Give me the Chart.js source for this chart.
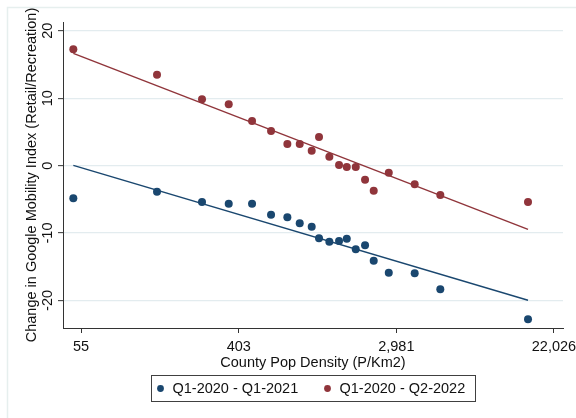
<!DOCTYPE html>
<html>
<head>
<meta charset="utf-8">
<script src="https://cdn.jsdelivr.net/npm/chart.js@4.4.1/dist/chart.umd.min.js"></script>
<style>
  html, body { margin: 0; padding: 0; background: #ffffff; }
  #wrap { width: 576px; height: 418px; position: relative; }
</style>
</head>
<body>
<div id="wrap"><canvas id="c" width="576" height="418"></canvas></div>
<script>
// County population density bins (natural log of people per km2)
const logDensity = [3.901, 4.963, 5.534, 5.873, 6.169, 6.410, 6.617, 6.774, 6.926, 7.019,
                    7.150, 7.273, 7.371, 7.485, 7.603, 7.713, 7.904, 8.233, 8.558, 9.671];

// Change in Google mobility index (retail/recreation), binned means
const changeQ1_2021 = [-4.85, -3.87, -5.40, -5.65, -5.65, -7.29, -7.67, -8.56, -9.07, -10.79,
                       -11.29, -11.19, -10.85, -12.42, -11.82, -14.11, -15.89, -15.98, -18.35, -22.80];
const changeQ2_2022 = [17.25, 13.48, 9.83, 9.09, 6.61, 5.13, 3.20, 3.20, 2.21, 4.24,
                       1.32, 0.09, -0.21, -0.21, -2.09, -3.73, -1.06, -2.78, -4.36, -5.40];

// Linear fit end points
const fitX = [3.901, 9.671];
const fitQ1_2021 = [0.04, -19.98];
const fitQ2_2022 = [16.65, -9.45];

const seriesLabels = ['Q1-2020 - Q1-2021', 'Q1-2020 - Q2-2022'];
const xTickValues = [4, 6, 8, 10];
const xTickLabels = ['55', '403', '2,981', '22,026'];
const yTickValues = [-20, -10, 0, 10, 20];
const yTickLabels = ['-20', '-10', '0', '10', '20'];

const BLUE = '#1a476f';
const RED = '#90353b';
const AXIS = '#333333';
const GRID = '#e3ecef';
const TEXT = '#111111';
const FONT = "'Liberation Sans', Arial, sans-serif";

const toPoints = (xs, ys) => xs.map((x, i) => ({ x: x, y: ys[i] }));

// Outer graph frame (top and left edges) drawn under everything
const framePlugin = {
  id: 'frame',
  beforeDraw(chart) {
    const ctx = chart.ctx;
    ctx.save();
    ctx.strokeStyle = '#e6efee';
    ctx.lineWidth = 1.5;
    ctx.beginPath();
    ctx.moveTo(576, 7.5);
    ctx.lineTo(7.5, 7.5);
    ctx.lineTo(7.5, 418);
    ctx.stroke();
    ctx.restore();
  }
};

// Boxed legend below the x axis title
const legendPlugin = {
  id: 'boxLegend',
  afterDraw(chart) {
    const ctx = chart.ctx;
    const area = chart.chartArea;
    const cx = (area.left + area.right) / 2;
    const boxW = 324, boxH = 26;
    const left = Math.round(cx - boxW / 2) + 0.5;
    const top = area.bottom + 47.5;
    const midY = top + boxH / 2;
    ctx.save();
    ctx.strokeStyle = '#404040';
    ctx.lineWidth = 1;
    ctx.strokeRect(left, top, boxW, boxH);
    ctx.font = '14.5px ' + FONT;
    ctx.textBaseline = 'middle';
    ctx.textAlign = 'left';
    const items = [
      { label: seriesLabels[0], color: BLUE, dotX: left + 9, textX: left + 21 },
      { label: seriesLabels[1], color: RED, dotX: left + 176, textX: left + 188 }
    ];
    items.forEach(it => {
      ctx.fillStyle = it.color;
      ctx.beginPath();
      ctx.arc(it.dotX, midY, 3.4, 0, Math.PI * 2);
      ctx.fill();
      ctx.fillStyle = TEXT;
      ctx.fillText(it.label, it.textX, midY + 0.5);
    });
    ctx.restore();
  }
};

new Chart(document.getElementById('c'), {
  type: 'scatter',
  data: {
    datasets: [
      {
        label: seriesLabels[0],
        data: toPoints(logDensity, changeQ1_2021),
        backgroundColor: BLUE,
        borderWidth: 0,
        pointRadius: 4,
        order: 1
      },
      {
        label: seriesLabels[1],
        data: toPoints(logDensity, changeQ2_2022),
        backgroundColor: RED,
        borderWidth: 0,
        pointRadius: 4,
        order: 1
      },
      {
        label: 'Fit ' + seriesLabels[0],
        data: toPoints(fitX, fitQ1_2021),
        showLine: true,
        borderColor: BLUE,
        borderWidth: 1.4,
        pointRadius: 0,
        order: 2
      },
      {
        label: 'Fit ' + seriesLabels[1],
        data: toPoints(fitX, fitQ2_2022),
        showLine: true,
        borderColor: RED,
        borderWidth: 1.4,
        pointRadius: 0,
        order: 2
      }
    ]
  },
  options: {
    responsive: false,
    animation: false,
    devicePixelRatio: 1,
    layout: { padding: { top: 22, right: 13, bottom: 46, left: 0 } },
    plugins: {
      legend: { display: false },
      tooltip: { enabled: false }
    },
    scales: {
      x: {
        type: 'linear',
        min: 3.770,
        max: 10.115,
        afterBuildTicks(scale) { scale.ticks = xTickValues.map(v => ({ value: v })); },
        afterFit(scale) {
          scale.height = 44;
          scale.paddingLeft = 0;
          scale.paddingRight = 0;
        },
        ticks: {
          autoSkip: false,
          maxRotation: 0,
          padding: 5,
          color: TEXT,
          font: { family: FONT, size: 14.5 },
          callback(value) {
            const i = xTickValues.indexOf(value);
            return i >= 0 ? xTickLabels[i] : '';
          }
        },
        grid: { drawOnChartArea: false, drawTicks: true, tickLength: 5, tickColor: AXIS, tickWidth: 1 },
        border: { display: true, color: AXIS, width: 1 },
        title: {
          display: true,
          text: 'County Pop Density (P/Km2)',
          color: TEXT,
          font: { family: FONT, size: 14.5 },
          padding: { top: 0, bottom: 0 }
        }
      },
      y: {
        type: 'linear',
        min: -24.09,
        max: 21.30,
        afterBuildTicks(scale) { scale.ticks = yTickValues.map(v => ({ value: v })); },
        afterFit(scale) {
          scale.width = 63;
          scale.paddingTop = 0;
          scale.paddingBottom = 0;
        },
        ticks: {
          autoSkip: false,
          minRotation: 90,
          maxRotation: 90,
          crossAlign: 'center',
          padding: 0,
          color: TEXT,
          font: { family: FONT, size: 14.5 },
          callback(value) {
            const i = yTickValues.indexOf(value);
            return i >= 0 ? yTickLabels[i] : '';
          }
        },
        grid: { color: GRID, lineWidth: 1.3, drawTicks: true, tickLength: 5, tickColor: AXIS, tickWidth: 1 },
        border: { display: true, color: AXIS, width: 1 },
        title: {
          display: true,
          text: 'Change in Google Mobility Index (Retail/Recreation)',
          color: TEXT,
          font: { family: FONT, size: 14.5 },
          padding: { top: 23, bottom: 0 }
        }
      }
    }
  },
  plugins: [framePlugin, legendPlugin]
});
</script>
</body>
</html>
